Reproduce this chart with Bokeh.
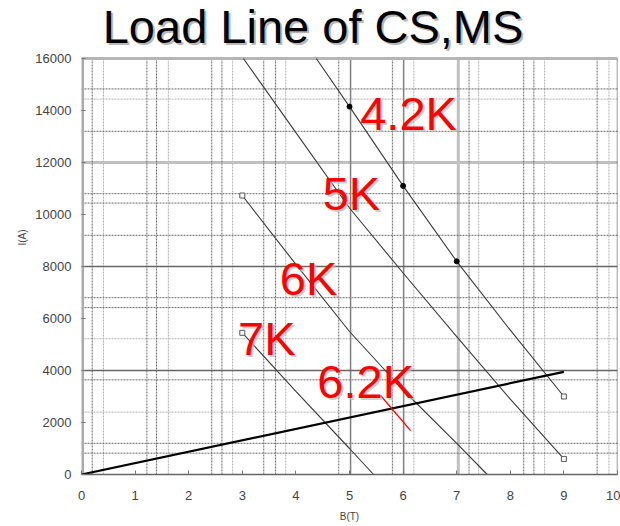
from bokeh.plotting import figure
from bokeh.models import Range1d, Label, FixedTicker
from bokeh.embed import file_html
from bokeh.resources import INLINE

# ---- data ----
# 4.2K curve
x42 = [4.38, 5, 6, 7, 8, 9]
y42 = [16000, 14150, 11100, 8200, 5550, 3000]
dots42_x = [5, 6, 7]
dots42_y = [14150, 11100, 8200]
# 5K curve
x5 = [3.02, 4, 5, 6, 7, 8, 9]
y5 = [16000, 13150, 10250, 7750, 5300, 2900, 600]
# 6K curve
x6 = [3, 4, 5, 6, 7, 7.57]
y6 = [10730, 8080, 5500, 3250, 1200, 0]
# 7K curve
x7 = [3, 4, 5, 5.45]
y7 = [5450, 3200, 1000, 0]
# 6.2K short segment
x62 = [5.58, 6.14]
y62 = [3040, 1690]
# load line
xload = [0, 9]
yload = [0, 3950]
# open square end markers
sq_x = [3, 3, 9, 9]
sq_y = [10730, 5450, 600, 3000]

# labels
title_text = "Load Line of CS,MS"
lab_text = ["4.2K", "5K", "6K", "7K", "6.2K"]
lab_x = [5.2, 4.5, 3.7, 2.92, 4.4]
lab_y = [13880, 10800, 7540, 5230, 3580]

x_ticks = [0, 1, 2, 3, 4, 5, 6, 7, 8, 9, 10]
y_ticks = [0, 2000, 4000, 6000, 8000, 10000, 12000, 14000, 16000]

# grid positions
vx_dark = [0.2, 1.22, 1.4, 2.43, 2.62, 3.4, 3.62, 4.8, 5.8, 7.23, 8.25, 8.44, 9.62]
vx_light = [0.41, 1.62, 2.82, 3.81, 6.2, 7.41, 8.64, 9.84]
vx_solid = [5.02, 6.01]
vx_thick = [7.03]
hy_dark = [820, 1200, 3640, 6420, 6800, 9200, 10440, 10800, 13200, 14830]
hy_light = [2400, 5220, 14440]
hy_solid = [4000, 8000]
hy_thick = [12000]

YMAX = 16000
YTOP = 16000 * 474 / 416  # extra room above the chart for the title

p = figure(width=620, height=526, output_backend="svg", toolbar_location=None,
           x_range=Range1d(0, 10), y_range=Range1d(0, YTOP),
           min_border_left=81, min_border_right=3, min_border_top=0,
           min_border_bottom=52, background_fill_color="white",
           border_fill_color="white")
p.outline_line_color = None
p.xgrid.visible = False
p.ygrid.visible = False

def vlines(xs, color, width, dash, alpha=1.0):
    p.segment(x0=xs, y0=[0] * len(xs), x1=xs, y1=[YMAX] * len(xs),
              line_color=color, line_width=width, line_dash=dash, line_alpha=alpha)

def hlines(ys, color, width, dash, alpha=1.0):
    p.segment(x0=[0] * len(ys), y0=ys, x1=[10] * len(ys), y1=ys,
              line_color=color, line_width=width, line_dash=dash, line_alpha=alpha)

vlines(vx_light, "#b0b0b0", 1, "2 1")
hlines(hy_light, "#b0b0b0", 1, "2 1")
vlines(vx_thick, "#c0c0c0", 3, "solid")
hlines(hy_thick, "#c0c0c0", 3, "solid")
vlines(vx_dark, "#6a6a6a", 1, "2 1")
hlines(hy_dark, "#6a6a6a", 1, "2 1")
vlines(vx_solid, "#808080", 1.5, "solid")
hlines(hy_solid, "#666666", 1.5, "solid")
# frame: top thick gray, right thin dark, left thick gray
hlines([YMAX], "#b5b5b5", 3, "solid")
vlines([9.997], "#555555", 1, "solid")
vlines([0.02], "#aaaaaa", 3, "solid")

# curves
for xs, ys in [(x42, y42), (x5, y5), (x6, y6), (x7, y7)]:
    p.line(xs, ys, line_color="#3a3a3a", line_width=1.1)
p.line(xload, yload, line_color="black", line_width=2.2)
p.line(x62, y62, line_color="red", line_width=1.3)
p.scatter(dots42_x, dots42_y, marker="circle", size=5, fill_color="black", line_color="black")
p.scatter(sq_x, sq_y, marker="square", size=5, fill_color="white", line_color="#555555", line_width=1)

# axes
for ax in (p.xaxis[0], p.yaxis[0]):
    ax.major_label_text_font = "Liberation Sans"
    ax.major_label_text_font_size = "13px"
    ax.major_label_text_color = "#444444"
    ax.axis_label_text_font = "Liberation Sans"
    ax.axis_label_text_font_size = "10px"
    ax.axis_label_text_font_style = "normal"
    ax.axis_label_text_color = "#444444"
    ax.major_tick_in = 4
    ax.major_tick_out = 0
    ax.minor_tick_line_color = None
    ax.major_tick_line_color = "#777777"
p.xaxis.ticker = FixedTicker(ticks=x_ticks)
p.yaxis.ticker = FixedTicker(ticks=y_ticks)
p.xaxis.axis_label = "B(T)"
p.yaxis.axis_label = "I(A)"
p.xaxis.axis_line_color = "#666666"
p.xaxis.axis_line_width = 1.5
p.yaxis.axis_line_color = None
p.xaxis.major_label_standoff = 16
p.yaxis.major_label_standoff = 10
p.xaxis.axis_label_standoff = 8
p.yaxis.axis_label_standoff = 4

# title (drawn inside the extended frame area, above the chart)
for dx, dy, col in [(2, -2, "#b8b8b8"), (0, 0, "black")]:
    p.add_layout(Label(x=4.32, y=17230, text=title_text, text_align="center",
                       text_baseline="alphabetic", text_font="Liberation Sans",
                       text_font_size="47px", text_color=col, x_offset=dx, y_offset=dy))

# red labels
for t, lx, ly in zip(lab_text, lab_x, lab_y):
    p.add_layout(Label(x=lx, y=ly, text=t, text_align="left", text_baseline="alphabetic",
                       text_font="Liberation Sans", text_font_size="47px",
                       text_color="#bbbbbb", text_alpha=0.7, x_offset=2, y_offset=-2))
    p.add_layout(Label(x=lx, y=ly, text=t, text_align="left", text_baseline="alphabetic",
                       text_font="Liberation Sans", text_font_size="47px",
                       text_color="#ff0000"))

open("out.html", "w").write(file_html(p, INLINE))
